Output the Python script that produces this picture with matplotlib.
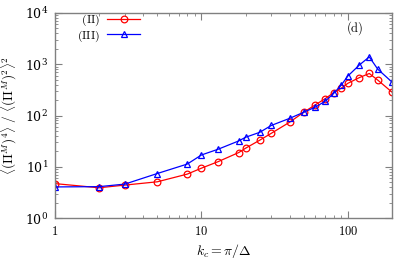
import matplotlib
matplotlib.use("Agg")
import matplotlib.pyplot as plt
from matplotlib.ticker import LogLocator, FixedLocator, FixedFormatter, NullFormatter

plt.rcParams['mathtext.fontset'] = 'cm'
plt.rcParams['font.family'] = ['DejaVu Serif']

kc = [1, 2, 3, 5, 8, 10, 13, 18, 20, 25, 30, 40, 50, 60, 70, 80, 90, 100, 120, 140, 160, 200]
ratio_II = [4.7, 3.9, 4.4, 5.1, 7.2, 9.4, 12.6, 19, 23, 33, 45, 74, 116, 162, 213, 280, 340, 425, 550, 660, 490, 286]
ratio_III = [4.05, 4.1, 4.6, 7.4, 11.3, 17, 22, 32, 37.6, 47, 64, 88, 116, 146, 190, 270, 390, 590, 970, 1390, 800, 450]

label_II = r'$\;\,\mathrm{(II)}$'
label_III = r'$\mathrm{(III)}$'
xlabel = r'$k_c=\pi/\Delta$'
ylabel = r'$\langle(\Pi^M)^4\rangle\ /\ \langle(\Pi^M)^2\rangle^2$'
panel = r'$\mathrm{(d)}$'
xticks = [1, 10, 100]
xticklabels = [r'$1$', r'$10$', r'$100$']

fig = plt.figure(figsize=(4.15, 2.59), dpi=100)
ax = fig.add_axes([0.1325, 0.158, 0.812, 0.792])

ax.plot(kc, ratio_II, color='#ff0000', lw=0.9, marker='o', ms=4.8, mfc='none',
        mec='#ff0000', mew=0.9, label=label_II)
ax.plot(kc, ratio_III, color='#0000ff', lw=0.9, marker='^', ms=4.8, mfc='none',
        mec='#0000ff', mew=0.9, label=label_III)

ax.set_xscale('log')
ax.set_yscale('log')
ax.set_xlim(1, 200)
ax.set_ylim(1, 1e4)

ax.xaxis.set_major_locator(FixedLocator(xticks))
ax.xaxis.set_major_formatter(FixedFormatter(xticklabels))
ax.xaxis.set_minor_locator(LogLocator(base=10, subs=range(2, 10), numticks=20))
ax.xaxis.set_minor_formatter(NullFormatter())
ax.yaxis.set_major_locator(LogLocator(base=10, numticks=10))
ax.yaxis.set_minor_locator(LogLocator(base=10, subs=range(2, 10), numticks=20))
ax.yaxis.set_minor_formatter(NullFormatter())

for s in ax.spines.values():
    s.set_color('#808080')
    s.set_linewidth(1.0)
ax.tick_params(which='both', direction='in', top=True, right=True, color='#808080',
               labelsize=9)
ax.tick_params(which='major', length=5, width=0.8, pad=5)
ax.tick_params(which='minor', length=2.5, width=0.6)

ax.set_xlabel(xlabel, fontsize=10, labelpad=3)
ax.set_ylabel(ylabel, fontsize=9.5, labelpad=4)

ax.text(0.89, 0.927, panel, transform=ax.transAxes, fontsize=9, ha='center', va='center')

leg = ax.legend(loc='upper left', bbox_to_anchor=(0.065, 1.0), frameon=False,
                markerfirst=False, fontsize=8.5, handlelength=2.8, handletextpad=0.6,
                labelspacing=0.0, borderaxespad=0.0, borderpad=0.0)

fig.savefig('out.png', dpi=100)
